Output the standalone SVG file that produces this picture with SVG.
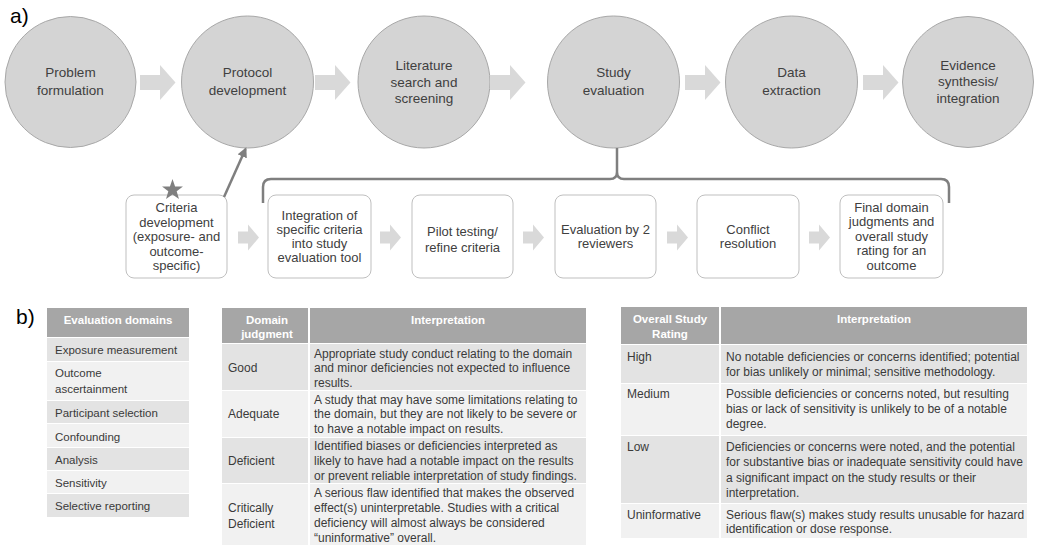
<svg xmlns="http://www.w3.org/2000/svg" width="1050" height="553" viewBox="0 0 1050 553">
<defs>
<style>
text{font-family:"Liberation Sans",Arial,sans-serif;fill:#404040}
.ct{font-size:13.5px;text-anchor:middle}
.bt{font-size:13px;text-anchor:middle}
.lbl{font-size:21px;fill:#000}
.circ{fill:#d4d4d4;stroke:#a8a8a8;stroke-width:1}
.big{fill:#d9d9d9}
.box{fill:#fff;stroke:#bfbfbf;stroke-width:1}
.hd{fill:#a6a6a6}
.hdt{font-size:11.5px;font-weight:bold;fill:#fff;text-anchor:middle}
.dk{fill:#e3e3e3}
.lt{fill:#f1f1f1}
.tt{font-size:12px;fill:#3a3a3a}
.t1{font-size:11.5px;fill:#3a3a3a}
.conn{fill:none;stroke:#7f7f7f;stroke-width:2.5}
</style>
<marker id="ah" viewBox="0 0 10 10" refX="8" refY="5" markerWidth="4" markerHeight="4" orient="auto">
<path d="M0,0 L10,5 L0,10 z" fill="#7f7f7f"/>
</marker>
</defs>
<rect width="1050" height="553" fill="#fff"/>
<text class="lbl" x="10" y="23">a)</text>
<text class="lbl" x="16" y="324">b)</text>

<g id="n1"><circle class="circ" cx="70.5" cy="82" r="65.5"/><text class="ct" x="70.5" y="77">Problem</text><text class="ct" x="70.5" y="95">formulation</text></g>
<g id="n2"><circle class="circ" cx="247.5" cy="82" r="66"/><text class="ct" x="247.5" y="77">Protocol</text><text class="ct" x="247.5" y="95">development</text></g>
<g id="n3"><circle class="circ" cx="424" cy="82" r="66"/><text class="ct" x="424" y="70">Literature</text><text class="ct" x="424" y="86.5">search and</text><text class="ct" x="424" y="103">screening</text></g>
<g id="n4"><circle class="circ" cx="613.5" cy="82" r="66"/><text class="ct" x="613.5" y="77">Study</text><text class="ct" x="613.5" y="95">evaluation</text></g>
<g id="n5"><circle class="circ" cx="791.5" cy="82" r="66"/><text class="ct" x="791.5" y="77">Data</text><text class="ct" x="791.5" y="95">extraction</text></g>
<g id="n6"><circle class="circ" cx="968" cy="82" r="65.5"/><text class="ct" x="968" y="69.5">Evidence</text><text class="ct" x="968" y="86">synthesis/</text><text class="ct" x="968" y="103">integration</text></g>

<g id="b1"><rect class="box" x="126" y="195" width="101" height="83" rx="8"/>
<polygon points="172.5,179 175.09,186.44 182.96,186.6 176.68,191.36 178.97,198.9 172.5,194.4 166.03,198.9 168.32,191.36 162.04,186.6 169.91,186.44" fill="#7f7f7f"/>
<text class="bt" x="176.5" y="211.5">Criteria</text><text class="bt" x="176.5" y="226.5">development</text><text class="bt" x="176.5" y="241">(exposure- and</text><text class="bt" x="176.5" y="255.5">outcome-</text><text class="bt" x="176.5" y="270">specific)</text></g>
<g id="b2"><rect class="box" x="268" y="195" width="103" height="83" rx="8"/><text class="bt" x="319.5" y="219.5">Integration of</text><text class="bt" x="319.5" y="233.5">specific criteria</text><text class="bt" x="319.5" y="247.5">into study</text><text class="bt" x="319.5" y="261.5">evaluation tool</text></g>
<g id="b3"><rect class="box" x="412" y="195" width="101" height="83" rx="8"/><text class="bt" x="462.5" y="236">Pilot testing/</text><text class="bt" x="462.5" y="251.5">refine criteria</text></g>
<g id="b4"><rect class="box" x="555" y="195" width="101" height="83" rx="8"/><text class="bt" x="605.5" y="233.5">Evaluation by 2</text><text class="bt" x="605.5" y="247.5">reviewers</text></g>
<g id="b5"><rect class="box" x="697" y="195" width="102" height="83" rx="8"/><text class="bt" x="748" y="233.5">Conflict</text><text class="bt" x="748" y="247.5">resolution</text></g>
<g id="b6"><rect class="box" x="840" y="195" width="103" height="83" rx="8"/><text class="bt" x="891.5" y="211.5">Final domain</text><text class="bt" x="891.5" y="226">judgments and</text><text class="bt" x="891.5" y="240.5">overall study</text><text class="bt" x="891.5" y="255">rating for an</text><text class="bt" x="891.5" y="269.5">outcome</text></g>

<g id="connectors">
<path class="big" d="M140,75 H160 V65 L175.5,82.5 L160,100 V90 H140 Z"/>
<path class="big" d="M315,75 H335 V65 L350.5,82.5 L335,100 V90 H315 Z"/>
<path class="big" d="M490,75 H510 V65 L525.5,82.5 L510,100 V90 H490 Z"/>
<path class="big" d="M685,75 H705 V65 L720.5,82.5 L705,100 V90 H685 Z"/>
<path class="big" d="M863,75 H883 V65 L898.5,82.5 L883,100 V90 H863 Z"/>
<path class="big" d="M238,231.5 H248 V224.5 L259,237.5 L248,250.5 V243.5 H238 Z"/>
<path class="big" d="M380,231.5 H390 V224.5 L401,237.5 L390,250.5 V243.5 H380 Z"/>
<path class="big" d="M523,231.5 H533 V224.5 L544,237.5 L533,250.5 V243.5 H523 Z"/>
<path class="big" d="M667,231.5 H677 V224.5 L688,237.5 L677,250.5 V243.5 H667 Z"/>
<path class="big" d="M809,231.5 H819 V224.5 L830,237.5 L819,250.5 V243.5 H809 Z"/>
<line class="conn" x1="224" y1="197" x2="245.5" y2="149" marker-end="url(#ah)"/>
<path class="conn" d="M263,203 V187 Q263,179 271,179 H610 Q617,179 617,172 V148 M617,172 Q617,179 624,179 H941 Q949,179 949,187 V203"/>
</g>

<g id="table-domains">
<rect class="hd" x="47" y="308" width="142" height="29"/>
<text class="hdt" x="118" y="324">Evaluation domains</text>
<rect class="dk" x="47" y="338" width="142" height="23"/>
<rect class="lt" x="47" y="362" width="142" height="38"/>
<rect class="dk" x="47" y="401" width="142" height="22"/>
<rect class="lt" x="47" y="424" width="142" height="23"/>
<rect class="dk" x="47" y="448" width="142" height="22"/>
<rect class="lt" x="47" y="471" width="142" height="22"/>
<rect class="dk" x="47" y="494" width="142" height="23"/>
<text class="t1" x="55" y="354">Exposure measurement</text>
<text class="t1" x="55" y="377">Outcome</text>
<text class="t1" x="55" y="393">ascertainment</text>
<text class="t1" x="55" y="417">Participant selection</text>
<text class="t1" x="55" y="441">Confounding</text>
<text class="t1" x="55" y="463.5">Analysis</text>
<text class="t1" x="55" y="486.5">Sensitivity</text>
<text class="t1" x="55" y="510">Selective reporting</text>
</g>

<g id="table-judgment">
<rect class="hd" x="222" y="308" width="86" height="35"/>
<rect class="hd" x="310" y="308" width="276" height="35"/>
<text class="hdt" x="267" y="324">Domain</text>
<text class="hdt" x="267" y="338">judgment</text>
<text class="hdt" x="448" y="324">Interpretation</text>
<rect class="dk" x="222" y="344" width="86" height="46"/><rect class="dk" x="310" y="344" width="276" height="46"/>
<rect class="lt" x="222" y="391" width="86" height="46"/><rect class="lt" x="310" y="391" width="276" height="46"/>
<rect class="dk" x="222" y="438" width="86" height="45"/><rect class="dk" x="310" y="438" width="276" height="45"/>
<rect class="lt" x="222" y="484" width="86" height="61"/><rect class="lt" x="310" y="484" width="276" height="61"/>
<text class="tt" x="228" y="372">Good</text>
<text class="tt" x="314" y="357.5">Appropriate  study conduct relating to the domain</text>
<text class="tt" x="314" y="372">and minor deficiencies not expected to influence</text>
<text class="tt" x="314" y="386.5">results.</text>
<text class="tt" x="228" y="418">Adequate</text>
<text class="tt" x="314" y="403.5">A study that may have some limitations relating to</text>
<text class="tt" x="314" y="418">the domain, but they are not likely to be severe or</text>
<text class="tt" x="314" y="433">to have a notable impact on results.</text>
<text class="tt" x="228" y="465">Deficient</text>
<text class="tt" x="314" y="450">Identified biases or deficiencies interpreted as</text>
<text class="tt" x="314" y="465">likely to have had a notable impact on the results</text>
<text class="tt" x="314" y="480">or prevent reliable interpretation  of study findings.</text>
<text class="tt" x="228" y="512">Critically</text>
<text class="tt" x="228" y="528">Deficient</text>
<text class="tt" x="314" y="496.5">A serious flaw identified that makes the observed</text>
<text class="tt" x="314" y="512">effect(s) uninterpretable. Studies with a critical</text>
<text class="tt" x="314" y="527">deficiency will almost always be considered</text>
<text class="tt" x="314" y="542">“uninformative” overall.</text>
</g>

<g id="table-rating">
<rect class="hd" x="621" y="307" width="98" height="37"/>
<rect class="hd" x="721" y="307" width="306" height="37"/>
<text class="hdt" x="670" y="323">Overall Study</text>
<text class="hdt" x="670" y="338">Rating</text>
<text class="hdt" x="874" y="323">Interpretation</text>
<rect class="dk" x="621" y="345" width="98" height="38"/><rect class="dk" x="721" y="345" width="306" height="38"/>
<rect class="lt" x="621" y="384" width="98" height="51"/><rect class="lt" x="721" y="384" width="306" height="51"/>
<rect class="dk" x="621" y="436" width="98" height="67"/><rect class="dk" x="721" y="436" width="306" height="67"/>
<rect class="lt" x="621" y="504" width="98" height="34"/><rect class="lt" x="721" y="504" width="306" height="34"/>
<text class="tt" x="627" y="361">High</text>
<text class="tt" x="726" y="361">No notable  deficiencies or concerns  identified; potential</text>
<text class="tt" x="726" y="376">for bias unlikely or minimal; sensitive methodology.</text>
<text class="tt" x="627" y="398">Medium</text>
<text class="tt" x="726" y="398">Possible deficiencies or concerns noted, but resulting</text>
<text class="tt" x="726" y="413">bias or lack of sensitivity is unlikely to be of a notable</text>
<text class="tt" x="726" y="428">degree.</text>
<text class="tt" x="627" y="451">Low</text>
<text class="tt" x="726" y="451">Deficiencies or concerns were noted, and the potential</text>
<text class="tt" x="726" y="466">for substantive bias or inadequate sensitivity could have</text>
<text class="tt" x="726" y="481.5">a significant impact on the study results or their</text>
<text class="tt" x="726" y="497">interpretation.</text>
<text class="tt" x="627" y="518.5">Uninformative</text>
<text class="tt" x="726" y="518.5">Serious flaw(s) makes study results unusable for hazard</text>
<text class="tt" x="726" y="532.5">identification or dose response.</text>
</g>
</svg>
